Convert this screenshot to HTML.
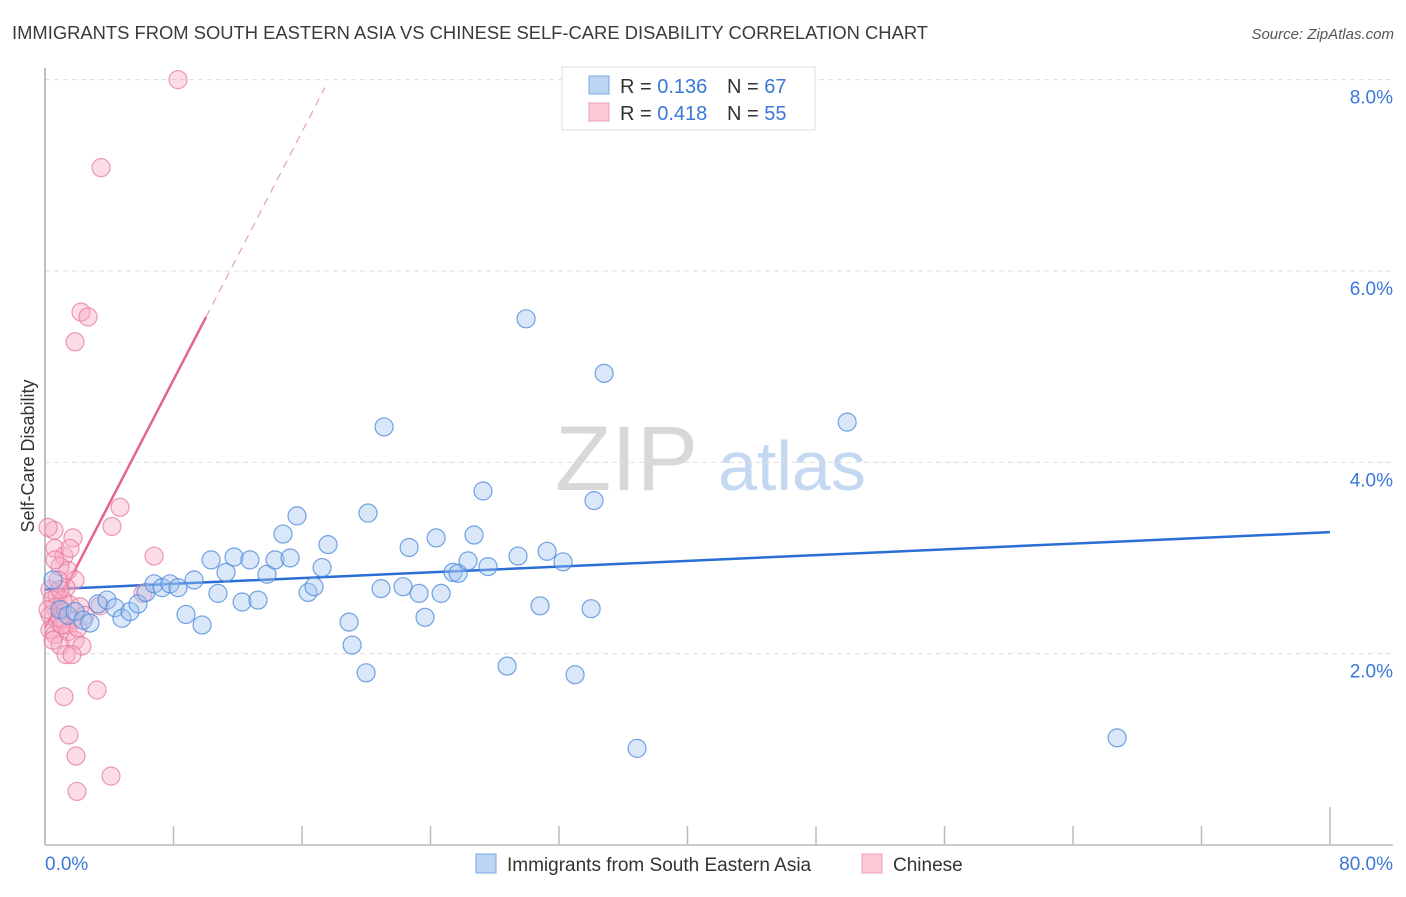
<!DOCTYPE html>
<html><head><meta charset="utf-8"><style>
body{margin:0;background:#fff;font-family:"Liberation Sans",sans-serif;}
svg text{font-family:"Liberation Sans",sans-serif;}
</style></head><body>
<svg id="chart" width="1406" height="892" xmlns="http://www.w3.org/2000/svg">
<text x="12" y="39" font-size="18" fill="#3a3a3a" textLength="916" lengthAdjust="spacingAndGlyphs">IMMIGRANTS FROM SOUTH EASTERN ASIA VS CHINESE SELF-CARE DISABILITY CORRELATION CHART</text>
<text x="1394" y="39" font-size="15" fill="#555" text-anchor="end" font-style="italic">Source: ZipAtlas.com</text>
<text transform="translate(34,456) rotate(-90)" font-size="18" fill="#333" text-anchor="middle">Self-Care Disability</text>
<g>
<text x="555" y="490" font-size="92" fill="#d8d8d8" font-family="Liberation Serif,serif">ZIP</text>
<text x="718" y="490" font-size="70" fill="#c5d8f2">atlas</text>
</g>
<g id="grid"></g><g id="axes"></g><g id="lines"></g><g id="pts"></g>
<g>
<rect x="562" y="67" width="253" height="63" fill="#fff" stroke="#ddd"/>
<rect x="589" y="76" width="20" height="18" fill="#bcd5f5" stroke="#7aa7e3"/>
<rect x="589" y="103" width="20" height="18" fill="#fcc8d6" stroke="#eda0b8"/>
<text x="620" y="93" font-size="20" fill="#333">R = <tspan fill="#3a78d8">0.136</tspan></text>
<text x="727" y="93" font-size="20" fill="#333">N = <tspan fill="#3a78d8">67</tspan></text>
<text x="620" y="120" font-size="20" fill="#333">R = <tspan fill="#3a78d8">0.418</tspan></text>
<text x="727" y="120" font-size="20" fill="#333">N = <tspan fill="#3a78d8">55</tspan></text>
</g>
<g>
<rect x="476" y="854" width="20" height="19" fill="#bcd5f5" stroke="#7aa7e3"/>
<text x="507" y="871" font-size="19" fill="#333">Immigrants from South Eastern Asia</text>
<rect x="862" y="854" width="20" height="19" fill="#fcc8d6" stroke="#eda0b8"/>
<text x="893" y="871" font-size="19" fill="#333">Chinese</text>
</g>
</svg>
<script>
const blueX=[0.5,0.93,1.43,1.87,2.37,2.8,3.3,3.86,4.36,4.79,5.29,5.79,6.29,6.79,7.29,7.78,8.28,8.78,9.28,9.78,10.34,10.77,11.27,11.77,12.27,12.76,13.26,13.82,14.32,14.82,15.26,15.69,16.38,16.75,17.25,17.62,18.93,19.12,19.99,20.11,20.92,21.11,22.29,22.67,23.29,23.66,24.35,24.66,25.4,25.72,26.34,26.71,27.27,27.58,28.77,29.45,29.95,30.82,31.26,32.25,33.0,34.0,34.18,34.81,36.86,49.94,66.75];
const blueY=[2.77,2.46,2.40,2.44,2.35,2.32,2.52,2.56,2.48,2.37,2.44,2.52,2.64,2.73,2.69,2.73,2.69,2.41,2.77,2.30,2.98,2.63,2.85,3.01,2.54,2.98,2.56,2.83,2.98,3.25,3.0,3.44,2.64,2.70,2.90,3.14,2.33,2.09,1.80,3.47,2.68,4.37,2.70,3.11,2.63,2.38,3.21,2.63,2.85,2.84,2.97,3.24,3.70,2.91,1.87,3.02,5.50,2.50,3.07,2.96,1.78,2.47,3.60,4.93,1.01,4.42,1.12];
const pinkX=[8.28,3.49,2.24,2.68,1.87,4.67,4.17,6.79,0.56,0.19,1.74,0.62,1.18,1.43,0.93,1.87,0.31,0.75,1.31,3.42,0.62,1.06,0.31,1.56,2.18,0.81,1.25,1.68,0.31,0.62,1.43,1.87,2.30,0.93,1.31,1.68,3.24,1.18,1.49,1.93,4.11,1.99,6.10,0.93,0.44,0.19,1.12,2.49,0.81,1.56,0.62,1.06,2.05,0.50,0.93];
const pinkY=[8.0,7.08,5.57,5.52,5.26,3.53,3.33,3.02,3.29,3.32,3.21,3.10,3.02,2.87,2.91,2.77,2.67,2.59,2.69,2.50,2.48,2.46,2.40,2.51,2.49,2.33,2.30,2.35,2.25,2.20,2.23,2.14,2.08,2.09,1.99,1.99,1.62,1.55,1.15,0.93,0.72,0.56,2.63,2.37,2.56,2.46,2.56,2.40,2.77,3.10,2.98,2.30,2.27,2.14,2.67];
const yTicks=[2,4,6,8];
const xTicks=[0,8,16,24,32,40,48,56,64,72,80];
const blueTrend=[2.67,0.0075];
const pinkTrend=[2.27,0.324,10.03,17.43];
const X=v=>45+v*(1285/80), Y=v=>845-v*95.67;
const NS="http://www.w3.org/2000/svg";
function mk(t,a,p){const e=document.createElementNS(NS,t);for(const k in a)e.setAttribute(k,a[k]);p.appendChild(e);return e;}
const grid=document.getElementById('grid'),axes=document.getElementById('axes'),lines=document.getElementById('lines'),pts=document.getElementById('pts');
yTicks.forEach(v=>{const l=mk('line',{x1:45,x2:1393,y1:Y(v),y2:Y(v),stroke:'#ddd','stroke-dasharray':'5,4'},grid);


const t=mk('text',{x:1393,y:Y(v)+24,'font-size':19,fill:'#3a78d8','text-anchor':'end'},grid);t.textContent=v.toFixed(1)+'%';

});
const ax=mk('line',{x1:45,x2:45,y1:68,y2:845,stroke:'#aaa','stroke-width':1.5},axes);


const bx=mk('line',{x1:45,x2:1393,y1:845,y2:845,stroke:'#bbb','stroke-width':1.5},axes);


xTicks.forEach((v,i)=>{const tk=mk('line',{x1:X(v),x2:X(v),y1:(i==xTicks.length-1?807:826),y2:845,stroke:'#bbb','stroke-width':1.5},axes);

});
const xl0=mk('text',{x:45,y:870,'font-size':19,fill:'#3a78d8'},axes);xl0.textContent=xTicks[0].toFixed(1)+'%';


const xl1=mk('text',{x:1393,y:870,'font-size':19,fill:'#3a78d8','text-anchor':'end'},axes);xl1.textContent=xTicks[xTicks.length-1].toFixed(1)+'%';


function dot(x,y,fill,stroke,name){const c=mk('circle',{cx:X(x),cy:Y(y),r:9,fill:fill,stroke:stroke,'stroke-width':1.2},pts);

}
pinkX.forEach((x,i)=>dot(x,pinkY[i],'rgba(248,170,196,0.4)','rgba(230,120,160,0.75)','chinese-point'));
blueX.forEach((x,i)=>dot(x,blueY[i],'rgba(160,196,240,0.4)','rgba(80,140,220,0.8)','sea-immigrants-point'));
const bl=mk('line',{x1:X(0),y1:Y(blueTrend[0]),x2:X(80),y2:Y(blueTrend[0]+80*blueTrend[1]),stroke:'#2a6fd6','stroke-width':2.5},lines);


const pl=mk('line',{x1:X(0),y1:Y(pinkTrend[0]),x2:X(pinkTrend[2]),y2:Y(pinkTrend[0]+pinkTrend[1]*pinkTrend[2]),stroke:'#e5648f','stroke-width':2.5},lines);


const pd=mk('line',{x1:X(pinkTrend[2]),y1:Y(pinkTrend[0]+pinkTrend[1]*pinkTrend[2]),x2:X(pinkTrend[3]),y2:Y(pinkTrend[0]+pinkTrend[1]*pinkTrend[3]),stroke:'#e8a0b8','stroke-width':1.2,'stroke-dasharray':'8,6'},lines);


</script>
</body></html>
